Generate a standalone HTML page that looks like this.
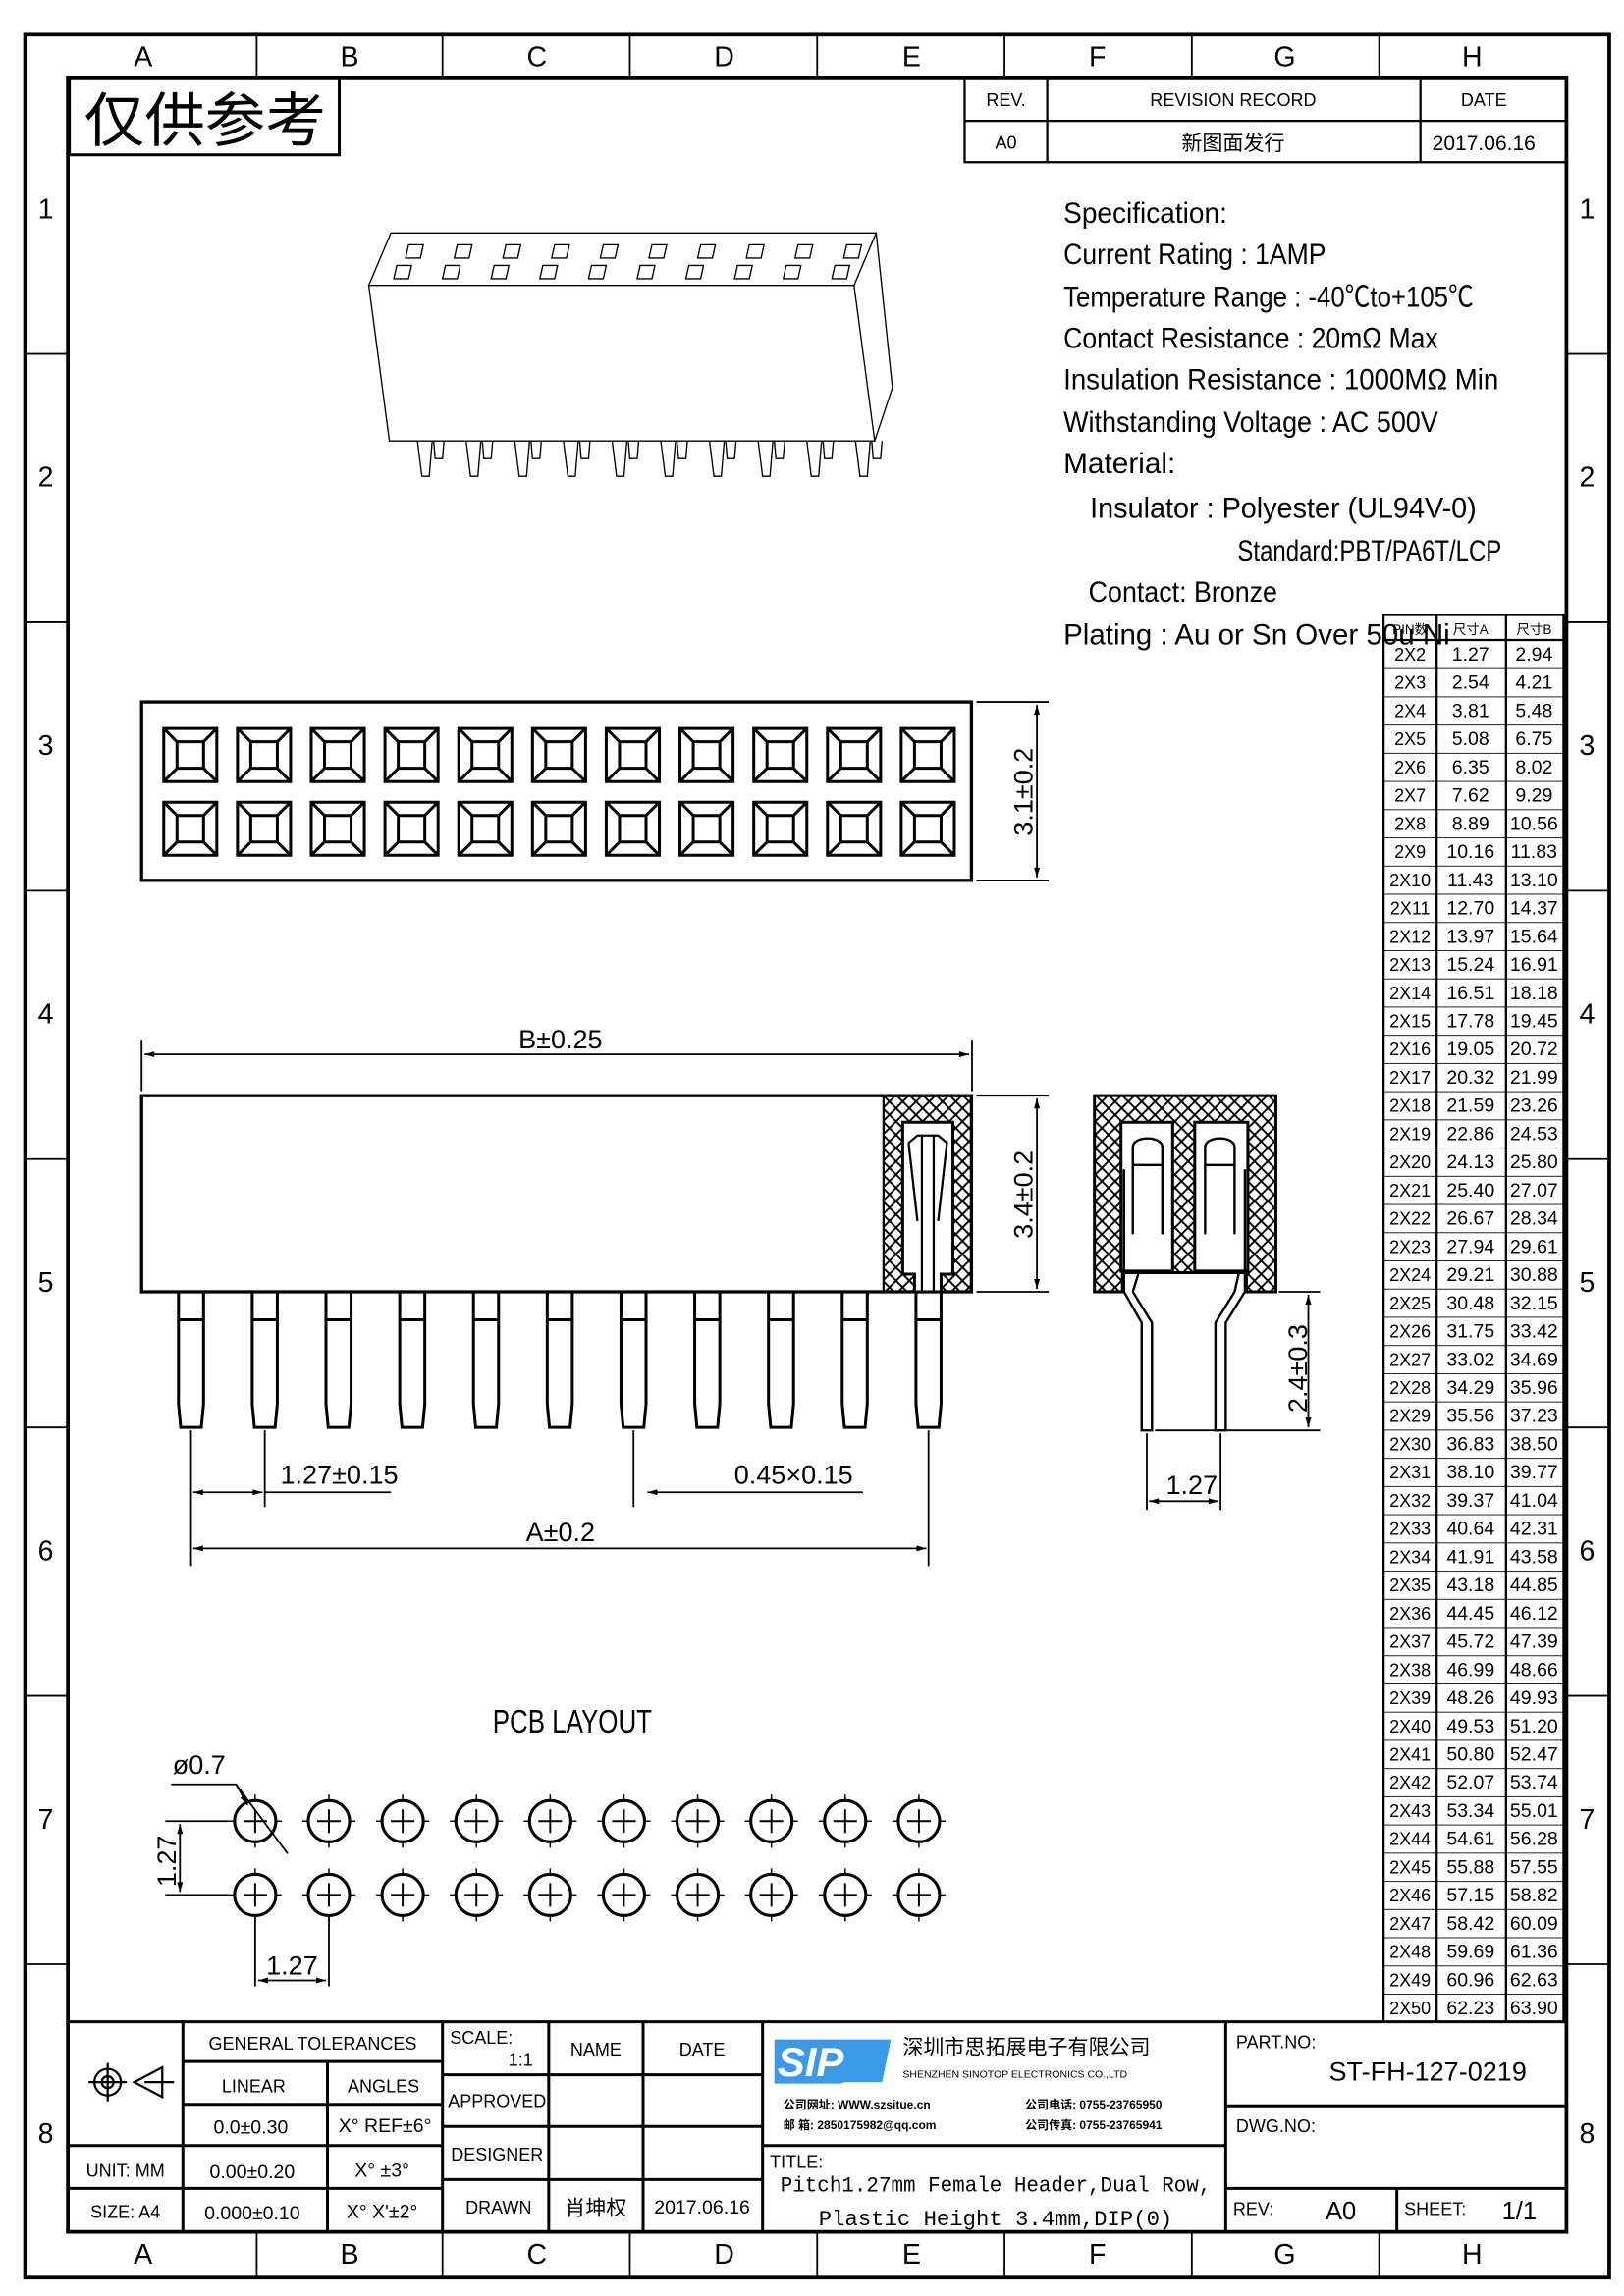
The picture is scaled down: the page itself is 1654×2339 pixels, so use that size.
<!DOCTYPE html>
<html><head><meta charset="utf-8"><style>
html,body{margin:0;padding:0;background:#fff}
svg{display:block}
text{font-family:"Liberation Sans","Noto Sans CJK SC",sans-serif;fill:#000}
.m{font-family:"Liberation Mono","Noto Sans CJK SC",monospace}
</style></head><body>
<svg width="1654" height="2339" viewBox="0 0 1101 1557" preserveAspectRatio="none" xmlns="http://www.w3.org/2000/svg">
<defs>
<pattern id="hx" width="9" height="9" patternUnits="userSpaceOnUse">
<path d="M0 0L9 9M9 0L0 9" stroke="#000" stroke-width="1.3"/>
</pattern>
<pattern id="rows" width="200" height="19.125" patternUnits="userSpaceOnUse" y="434">
<line x1="0" y1="0" x2="200" y2="0" stroke="#000" stroke-width="1.2"/>
</pattern>
<marker id="ar" viewBox="0 0 10 6" refX="10" refY="3" markerWidth="10" markerHeight="4" orient="auto-start-reverse" markerUnits="userSpaceOnUse">
<path d="M0 0L10 3L0 6z" fill="#000"/>
</marker>
</defs>
<rect width="1101" height="1557" fill="#fff"/>
<rect x="17" y="23.5" width="1074" height="1521" fill="none" stroke="#000" stroke-width="2.5"/>
<rect x="46" y="52.5" width="1016" height="1461" fill="none" stroke="#000" stroke-width="2.5"/>
<g stroke="#000" stroke-width="1.2">
<line x1="174" y1="24" x2="174" y2="52"/><line x1="300" y1="24" x2="300" y2="52"/><line x1="427" y1="24" x2="427" y2="52"/><line x1="554" y1="24" x2="554" y2="52"/><line x1="681" y1="24" x2="681" y2="52"/><line x1="808" y1="24" x2="808" y2="52"/><line x1="935" y1="24" x2="935" y2="52"/>
<line x1="174" y1="1514" x2="174" y2="1544"/><line x1="300" y1="1514" x2="300" y2="1544"/><line x1="427" y1="1514" x2="427" y2="1544"/><line x1="554" y1="1514" x2="554" y2="1544"/><line x1="681" y1="1514" x2="681" y2="1544"/><line x1="808" y1="1514" x2="808" y2="1544"/><line x1="935" y1="1514" x2="935" y2="1544"/>
<path d="M17 240H46M17 422H46M17 604H46M17 786H46M17 968H46M17 1150H46M17 1332H46"/>
<path d="M1062 240H1091M1062 422H1091M1062 604H1091M1062 786H1091M1062 968H1091M1062 1150H1091M1062 1332H1091"/>
</g>
<g font-size="19" text-anchor="middle">
<text x="97" y="45">A</text><text x="237" y="45">B</text><text x="364" y="45">C</text><text x="491" y="45">D</text><text x="618" y="45">E</text><text x="744" y="45">F</text><text x="871" y="45">G</text><text x="998" y="45">H</text>
<text x="97" y="1535">A</text><text x="237" y="1535">B</text><text x="364" y="1535">C</text><text x="491" y="1535">D</text><text x="618" y="1535">E</text><text x="744" y="1535">F</text><text x="871" y="1535">G</text><text x="998" y="1535">H</text>
<text x="31" y="148">1</text><text x="31" y="330">2</text><text x="31" y="512">3</text><text x="31" y="694">4</text><text x="31" y="876">5</text><text x="31" y="1058">6</text><text x="31" y="1240">7</text><text x="31" y="1453">8</text>
<text x="1076" y="148">1</text><text x="1076" y="330">2</text><text x="1076" y="512">3</text><text x="1076" y="694">4</text><text x="1076" y="876">5</text><text x="1076" y="1058">6</text><text x="1076" y="1240">7</text><text x="1076" y="1453">8</text>
</g>
<path d="M47 53V105H230V53" fill="none" stroke="#000" stroke-width="2"/>
<text x="57" y="96" font-size="40" textLength="164" lengthAdjust="spacingAndGlyphs">仅供参考</text>
<path d="M654 53V110H1062M654 82H1062M710 53V110M963 53V110" fill="none" stroke="#000" stroke-width="1.5"/>
<g font-size="12" text-anchor="middle">
<text x="682" y="72">REV.</text><text x="836" y="72">REVISION RECORD</text><text x="1006" y="72">DATE</text>
<text x="682" y="101">A0</text><text x="836" y="102" font-size="14">新图面发行</text><text x="1006" y="102" font-size="14">2017.06.16</text>
</g>
<g class="m" font-size="20">
<text x="721" y="151" textLength="111" lengthAdjust="spacingAndGlyphs">Specification:</text>
<text x="721" y="179" textLength="178" lengthAdjust="spacingAndGlyphs">Current Rating : 1AMP</text>
<text x="721" y="208" textLength="278" lengthAdjust="spacingAndGlyphs">Temperature Range : -40℃to+105℃</text>
<text x="721" y="236" textLength="254" lengthAdjust="spacingAndGlyphs">Contact Resistance : 20mΩ Max</text>
<text x="721" y="264" textLength="295" lengthAdjust="spacingAndGlyphs">Insulation Resistance : 1000MΩ Min</text>
<text x="721" y="293" textLength="254" lengthAdjust="spacingAndGlyphs">Withstanding Voltage : AC 500V</text>
<text x="721" y="321" textLength="76" lengthAdjust="spacingAndGlyphs">Material:</text>
<text x="739" y="351" textLength="262" lengthAdjust="spacingAndGlyphs">Insulator : Polyester (UL94V-0)</text>
<text x="839" y="380" textLength="179" lengthAdjust="spacingAndGlyphs">Standard:PBT/PA6T/LCP</text>
<text x="738" y="408" textLength="128" lengthAdjust="spacingAndGlyphs">Contact: Bronze</text>
<text x="721" y="437" textLength="262" lengthAdjust="spacingAndGlyphs">Plating : Au or Sn Over 50u Ni</text>
</g>
<rect x="938" y="434" width="122" height="937" fill="url(#rows)"/>
<path d="M938 417H1060V1371H938ZM974 417V1371M1021 417V1371M938 434H1060" fill="none" stroke="#000" stroke-width="1.5"/>
<g font-size="9" text-anchor="middle"><text x="956" y="430">PIN数</text><text x="997" y="430">尺寸A</text><text x="1040" y="430">尺寸B</text></g>
<g font-size="12" text-anchor="middle">
<text x="956" y="448"><tspan x="956">2X2</tspan><tspan x="956" dy="19.125">2X3</tspan><tspan x="956" dy="19.125">2X4</tspan><tspan x="956" dy="19.125">2X5</tspan><tspan x="956" dy="19.125">2X6</tspan><tspan x="956" dy="19.125">2X7</tspan><tspan x="956" dy="19.125">2X8</tspan><tspan x="956" dy="19.125">2X9</tspan><tspan x="956" dy="19.125">2X10</tspan><tspan x="956" dy="19.125">2X11</tspan><tspan x="956" dy="19.125">2X12</tspan><tspan x="956" dy="19.125">2X13</tspan><tspan x="956" dy="19.125">2X14</tspan><tspan x="956" dy="19.125">2X15</tspan><tspan x="956" dy="19.125">2X16</tspan><tspan x="956" dy="19.125">2X17</tspan><tspan x="956" dy="19.125">2X18</tspan><tspan x="956" dy="19.125">2X19</tspan><tspan x="956" dy="19.125">2X20</tspan><tspan x="956" dy="19.125">2X21</tspan><tspan x="956" dy="19.125">2X22</tspan><tspan x="956" dy="19.125">2X23</tspan><tspan x="956" dy="19.125">2X24</tspan><tspan x="956" dy="19.125">2X25</tspan><tspan x="956" dy="19.125">2X26</tspan><tspan x="956" dy="19.125">2X27</tspan><tspan x="956" dy="19.125">2X28</tspan><tspan x="956" dy="19.125">2X29</tspan><tspan x="956" dy="19.125">2X30</tspan><tspan x="956" dy="19.125">2X31</tspan><tspan x="956" dy="19.125">2X32</tspan><tspan x="956" dy="19.125">2X33</tspan><tspan x="956" dy="19.125">2X34</tspan><tspan x="956" dy="19.125">2X35</tspan><tspan x="956" dy="19.125">2X36</tspan><tspan x="956" dy="19.125">2X37</tspan><tspan x="956" dy="19.125">2X38</tspan><tspan x="956" dy="19.125">2X39</tspan><tspan x="956" dy="19.125">2X40</tspan><tspan x="956" dy="19.125">2X41</tspan><tspan x="956" dy="19.125">2X42</tspan><tspan x="956" dy="19.125">2X43</tspan><tspan x="956" dy="19.125">2X44</tspan><tspan x="956" dy="19.125">2X45</tspan><tspan x="956" dy="19.125">2X46</tspan><tspan x="956" dy="19.125">2X47</tspan><tspan x="956" dy="19.125">2X48</tspan><tspan x="956" dy="19.125">2X49</tspan><tspan x="956" dy="19.125">2X50</tspan></text>
<text x="997" y="448" font-size="13"><tspan x="997">1.27</tspan><tspan x="997" dy="19.125">2.54</tspan><tspan x="997" dy="19.125">3.81</tspan><tspan x="997" dy="19.125">5.08</tspan><tspan x="997" dy="19.125">6.35</tspan><tspan x="997" dy="19.125">7.62</tspan><tspan x="997" dy="19.125">8.89</tspan><tspan x="997" dy="19.125">10.16</tspan><tspan x="997" dy="19.125">11.43</tspan><tspan x="997" dy="19.125">12.70</tspan><tspan x="997" dy="19.125">13.97</tspan><tspan x="997" dy="19.125">15.24</tspan><tspan x="997" dy="19.125">16.51</tspan><tspan x="997" dy="19.125">17.78</tspan><tspan x="997" dy="19.125">19.05</tspan><tspan x="997" dy="19.125">20.32</tspan><tspan x="997" dy="19.125">21.59</tspan><tspan x="997" dy="19.125">22.86</tspan><tspan x="997" dy="19.125">24.13</tspan><tspan x="997" dy="19.125">25.40</tspan><tspan x="997" dy="19.125">26.67</tspan><tspan x="997" dy="19.125">27.94</tspan><tspan x="997" dy="19.125">29.21</tspan><tspan x="997" dy="19.125">30.48</tspan><tspan x="997" dy="19.125">31.75</tspan><tspan x="997" dy="19.125">33.02</tspan><tspan x="997" dy="19.125">34.29</tspan><tspan x="997" dy="19.125">35.56</tspan><tspan x="997" dy="19.125">36.83</tspan><tspan x="997" dy="19.125">38.10</tspan><tspan x="997" dy="19.125">39.37</tspan><tspan x="997" dy="19.125">40.64</tspan><tspan x="997" dy="19.125">41.91</tspan><tspan x="997" dy="19.125">43.18</tspan><tspan x="997" dy="19.125">44.45</tspan><tspan x="997" dy="19.125">45.72</tspan><tspan x="997" dy="19.125">46.99</tspan><tspan x="997" dy="19.125">48.26</tspan><tspan x="997" dy="19.125">49.53</tspan><tspan x="997" dy="19.125">50.80</tspan><tspan x="997" dy="19.125">52.07</tspan><tspan x="997" dy="19.125">53.34</tspan><tspan x="997" dy="19.125">54.61</tspan><tspan x="997" dy="19.125">55.88</tspan><tspan x="997" dy="19.125">57.15</tspan><tspan x="997" dy="19.125">58.42</tspan><tspan x="997" dy="19.125">59.69</tspan><tspan x="997" dy="19.125">60.96</tspan><tspan x="997" dy="19.125">62.23</tspan></text>
<text x="1040" y="448" font-size="13"><tspan x="1040">2.94</tspan><tspan x="1040" dy="19.125">4.21</tspan><tspan x="1040" dy="19.125">5.48</tspan><tspan x="1040" dy="19.125">6.75</tspan><tspan x="1040" dy="19.125">8.02</tspan><tspan x="1040" dy="19.125">9.29</tspan><tspan x="1040" dy="19.125">10.56</tspan><tspan x="1040" dy="19.125">11.83</tspan><tspan x="1040" dy="19.125">13.10</tspan><tspan x="1040" dy="19.125">14.37</tspan><tspan x="1040" dy="19.125">15.64</tspan><tspan x="1040" dy="19.125">16.91</tspan><tspan x="1040" dy="19.125">18.18</tspan><tspan x="1040" dy="19.125">19.45</tspan><tspan x="1040" dy="19.125">20.72</tspan><tspan x="1040" dy="19.125">21.99</tspan><tspan x="1040" dy="19.125">23.26</tspan><tspan x="1040" dy="19.125">24.53</tspan><tspan x="1040" dy="19.125">25.80</tspan><tspan x="1040" dy="19.125">27.07</tspan><tspan x="1040" dy="19.125">28.34</tspan><tspan x="1040" dy="19.125">29.61</tspan><tspan x="1040" dy="19.125">30.88</tspan><tspan x="1040" dy="19.125">32.15</tspan><tspan x="1040" dy="19.125">33.42</tspan><tspan x="1040" dy="19.125">34.69</tspan><tspan x="1040" dy="19.125">35.96</tspan><tspan x="1040" dy="19.125">37.23</tspan><tspan x="1040" dy="19.125">38.50</tspan><tspan x="1040" dy="19.125">39.77</tspan><tspan x="1040" dy="19.125">41.04</tspan><tspan x="1040" dy="19.125">42.31</tspan><tspan x="1040" dy="19.125">43.58</tspan><tspan x="1040" dy="19.125">44.85</tspan><tspan x="1040" dy="19.125">46.12</tspan><tspan x="1040" dy="19.125">47.39</tspan><tspan x="1040" dy="19.125">48.66</tspan><tspan x="1040" dy="19.125">49.93</tspan><tspan x="1040" dy="19.125">51.20</tspan><tspan x="1040" dy="19.125">52.47</tspan><tspan x="1040" dy="19.125">53.74</tspan><tspan x="1040" dy="19.125">55.01</tspan><tspan x="1040" dy="19.125">56.28</tspan><tspan x="1040" dy="19.125">57.55</tspan><tspan x="1040" dy="19.125">58.82</tspan><tspan x="1040" dy="19.125">60.09</tspan><tspan x="1040" dy="19.125">61.36</tspan><tspan x="1040" dy="19.125">62.63</tspan><tspan x="1040" dy="19.125">63.90</tspan></text>
</g>
<!-- 3D view -->
<path d="M265 158H594L579 193.5H250ZM250 193.5L264 299H593L579 193.5M594 158L605 263L593 299" fill="none" stroke="#000" stroke-width="0.9"/>
<path id="slots" d="M277 166h10l-2 9h-10zM269 180h10l-2 9h-10z" fill="none" stroke="#000" stroke-width="0.9"/>
<use href="#slots" x="33"/><use href="#slots" x="66"/><use href="#slots" x="99"/><use href="#slots" x="132"/><use href="#slots" x="165"/><use href="#slots" x="198"/><use href="#slots" x="231"/><use href="#slots" x="264"/><use href="#slots" x="297"/>
<path id="p3" d="M283 299l3 24h5l2-24M294 299l1 12h5l1-12" fill="none" stroke="#000" stroke-width="0.9"/>
<use href="#p3" x="33"/><use href="#p3" x="66"/><use href="#p3" x="99"/><use href="#p3" x="132"/><use href="#p3" x="165"/><use href="#p3" x="198"/><use href="#p3" x="231"/><use href="#p3" x="264"/><use href="#p3" x="297"/>
<!-- top view -->
<rect x="96" y="476" width="562.6" height="121" fill="none" stroke="#000" stroke-width="2.2"/>
<path id="sq" d="M111 494h36v36h-36zM120 503h18v18h-18zM111 494l9 9M147 494l-9 9M111 530l9-9M147 530l-9-9" fill="none" stroke="#000" stroke-width="2"/>
<use href="#sq" y="50"/>
<g id="sq2"><use href="#sq" x="50"/><use href="#sq" x="50" y="50"/></g>
<use href="#sq2" x="50"/><use href="#sq2" x="100"/><use href="#sq2" x="150"/><use href="#sq2" x="200"/><use href="#sq2" x="250"/><use href="#sq2" x="300"/><use href="#sq2" x="350"/><use href="#sq2" x="400"/><use href="#sq2" x="450"/>
<g stroke="#000" stroke-width="1.2" fill="none">
<path d="M662 476H711M662 597H711"/>
<line x1="703" y1="478" x2="703" y2="595" marker-start="url(#ar)" marker-end="url(#ar)"/>
</g>
<text transform="translate(700 537) rotate(-90)" font-size="18" text-anchor="middle">3.1±0.2</text>
<!-- front view -->
<rect x="96" y="743" width="562.6" height="133" fill="none" stroke="#000" stroke-width="2.2"/>
<rect x="599" y="744" width="59" height="131" fill="url(#hx)"/>
<path d="M612 761H646V864H638V876H620V864H612Z" fill="#fff" stroke="#000" stroke-width="2"/>
<path d="M616 775L622 770H636L642 775L636 828M616 775L622 828M625 770V876M633 770V876" fill="none" stroke="#000" stroke-width="1.5"/>
<path d="M599 743V876" stroke="#000" stroke-width="1.5"/>
<path id="pin" d="M121 876V952L122.5 968H136.5L138 952V876M121 895H138" fill="none" stroke="#000" stroke-width="2"/>
<use href="#pin" x="50"/><use href="#pin" x="100"/><use href="#pin" x="150"/><use href="#pin" x="200"/><use href="#pin" x="250"/><use href="#pin" x="300"/><use href="#pin" x="350"/><use href="#pin" x="400"/><use href="#pin" x="450"/><use href="#pin" x="500"/>
<g stroke="#000" stroke-width="1.2" fill="none">
<path d="M96 705V740M659 705V740"/>
<line x1="98" y1="715" x2="657" y2="715" marker-start="url(#ar)" marker-end="url(#ar)"/>
<path d="M662 743H711M662 876H711"/>
<line x1="703" y1="745" x2="703" y2="874" marker-start="url(#ar)" marker-end="url(#ar)"/>
<path d="M129.5 970V1062M179.5 970V1022M429.5 970V1022M629.5 970V1062"/>
<line x1="131" y1="1012" x2="178" y2="1012" marker-start="url(#ar)" marker-end="url(#ar)"/>
<path d="M180 1012H265"/>
<line x1="585" y1="1012" x2="439" y2="1012" marker-end="url(#ar)"/>
<line x1="131" y1="1050" x2="628" y2="1050" marker-start="url(#ar)" marker-end="url(#ar)"/>
</g>
<g font-size="18" text-anchor="middle">
<text x="380" y="711">B±0.25</text>
<text transform="translate(700 810) rotate(-90)">3.4±0.2</text>
<text x="230" y="1006">1.27±0.15</text>
<text x="538" y="1006">0.45×0.15</text>
<text x="380" y="1045">A±0.2</text>
</g>
<!-- side view -->
<path d="M742 743H865V876H845V863H761V876H742Z" fill="url(#hx)" stroke="#000" stroke-width="2"/>
<path d="M760 761H795V862H760ZM810 761H846V862H810Z" fill="#fff" stroke="#000" stroke-width="2"/>
<g fill="none" stroke="#000" stroke-width="1.6">
<path d="M762 793V876L774 897V970H781V897L768 876"/>
<path d="M844 793V876L831 897V970H824V897L837 876"/>
<path d="M768 876L772 863H840L837 876"/>
<path d="M768 778C768 770 788 770 788 778V837M768 778V837M768 790H788"/>
<path d="M817 778C817 770 837 770 837 778V837M817 778V837M817 790H837"/>
</g>
<g stroke="#000" stroke-width="1.2" fill="none">
<path d="M867 876H895M783 970H895"/>
<line x1="887" y1="878" x2="887" y2="968" marker-start="url(#ar)" marker-end="url(#ar)"/>
<path d="M777.5 972V1024M827.5 972V1024"/>
<line x1="779" y1="1018" x2="826" y2="1018" marker-start="url(#ar)" marker-end="url(#ar)"/>
</g>
<text transform="translate(886 928) rotate(-90)" font-size="18" text-anchor="middle">2.4±0.3</text>
<text x="808" y="1013" font-size="18" text-anchor="middle">1.27</text>
<!-- PCB layout -->
<text x="388" y="1175" font-size="22" text-anchor="middle" textLength="108" lengthAdjust="spacingAndGlyphs">PCB LAYOUT</text>
<g id="h" fill="none" stroke="#000"><circle cx="173" cy="1235" r="14" stroke-width="2"/><path d="M165 1235H181M173 1227V1243" stroke-width="1.3"/><path d="M155 1235H160M186 1235H191M173 1217V1222M173 1248V1253" stroke-width="1"/></g>
<use href="#h" y="50"/>
<g id="h2"><use href="#h" x="50"/><use href="#h" x="50" y="50"/></g>
<use href="#h2" x="50"/><use href="#h2" x="100"/><use href="#h2" x="150"/><use href="#h2" x="200"/><use href="#h2" x="250"/><use href="#h2" x="300"/><use href="#h2" x="350"/><use href="#h2" x="400"/>
<g stroke="#000" stroke-width="1.2" fill="none">
<path d="M116 1210H160L195 1257"/>
<line x1="160" y1="1210" x2="168" y2="1224" marker-end="url(#ar)"/>
<path d="M112 1235H155M112 1285H155"/>
<line x1="122" y1="1237" x2="122" y2="1283" marker-start="url(#ar)" marker-end="url(#ar)"/>
<path d="M173 1300V1347M223 1300V1347"/>
<line x1="175" y1="1343" x2="221" y2="1343" marker-start="url(#ar)" marker-end="url(#ar)"/>
</g>
<text x="117" y="1203" font-size="18">ø0.7</text>
<text transform="translate(119 1262) rotate(-90)" font-size="18" text-anchor="middle">1.27</text>
<text x="198" y="1339" font-size="18" text-anchor="middle">1.27</text>
<!-- title block -->
<g fill="none" stroke="#000" stroke-width="2">
<path d="M46 1371H1062"/>
<path d="M124 1371V1513M300 1371V1513M222 1398V1513M124 1398H300M124 1427H300M46 1455H300M46 1484H300"/>
<path d="M372 1371V1513M436 1371V1513M517 1371V1513M300 1407H517M300 1442H517M300 1478H517"/>
<path d="M831 1371V1513M517 1455H831M831 1428H1062M831 1484H1062M947 1484V1513"/>
</g>
<g fill="none" stroke="#000" stroke-width="1.5">
<circle cx="73" cy="1412" r="9"/><circle cx="73" cy="1412" r="4"/><path d="M60 1412H86M73 1399V1425"/>
<path d="M91 1412L110 1402V1422ZM98 1412H118"/>
</g>
<g font-size="12" text-anchor="middle">
<text x="212" y="1390">GENERAL TOLERANCES</text>
<text x="172" y="1419">LINEAR</text><text x="260" y="1419">ANGLES</text>
<text x="170" y="1447" font-size="13">0.0±0.30</text><text x="261" y="1446" font-size="13">X° REF±6°</text>
<text x="85" y="1476">UNIT: MM</text><text x="171" y="1477" font-size="13">0.00±0.20</text><text x="259" y="1476" font-size="13">X° ±3°</text>
<text x="85" y="1504">SIZE: A4</text><text x="171" y="1505" font-size="13">0.000±0.10</text><text x="259" y="1504" font-size="13">X° X'±2°</text>
<text x="353" y="1401">1:1</text>
<text x="404" y="1394">NAME</text><text x="476" y="1394">DATE</text>
<text x="337" y="1429">APPROVED</text><text x="337" y="1465">DESIGNER</text><text x="338" y="1501">DRAWN</text>
<text x="404" y="1502" font-size="14">肖坤权</text><text x="476" y="1501" font-size="13">2017.06.16</text>
</g>
<text x="305" y="1386" font-size="12">SCALE:</text>
<path d="M525 1383H604L598 1412H573L570 1413H525Z" fill="#3a9ae8"/>
<text x="527" y="1408" font-size="28" font-weight="bold" font-style="italic" style="fill:#fff">SIP</text>
<text x="612" y="1393" font-size="14">深圳市思拓展电子有限公司</text>
<text x="612" y="1409" font-size="7">SHENZHEN SINOTOP ELECTRONICS CO.,LTD</text>
<g font-size="8" font-weight="bold">
<text x="531" y="1430">公司网址: WWW.szsitue.cn</text><text x="695" y="1430">公司电话: 0755-23765950</text>
<text x="531" y="1444">邮    箱: 2850175982@qq.com</text><text x="695" y="1444">公司传真: 0755-23765941</text>
</g>
<text x="522" y="1470" font-size="12">TITLE:</text>
<text x="675" y="1486" font-size="15" text-anchor="middle" class="m" textLength="292" lengthAdjust="spacingAndGlyphs">Pitch1.27mm Female Header,Dual Row,</text>
<text x="675" y="1509" font-size="15" text-anchor="middle" class="m" textLength="240" lengthAdjust="spacingAndGlyphs">Plastic Height 3.4mm,DIP(0)</text>
<text x="838" y="1389" font-size="12">PART.NO:</text>
<text x="968" y="1411" font-size="18" text-anchor="middle">ST-FH-127-0219</text>
<text x="838" y="1446" font-size="12">DWG.NO:</text>
<text x="836" y="1502" font-size="12">REV:</text><text x="909" y="1505" font-size="17" text-anchor="middle">A0</text>
<text x="952" y="1502" font-size="12">SHEET:</text><text x="1030" y="1505" font-size="17" text-anchor="middle">1/1</text>
</svg>
</body></html>
